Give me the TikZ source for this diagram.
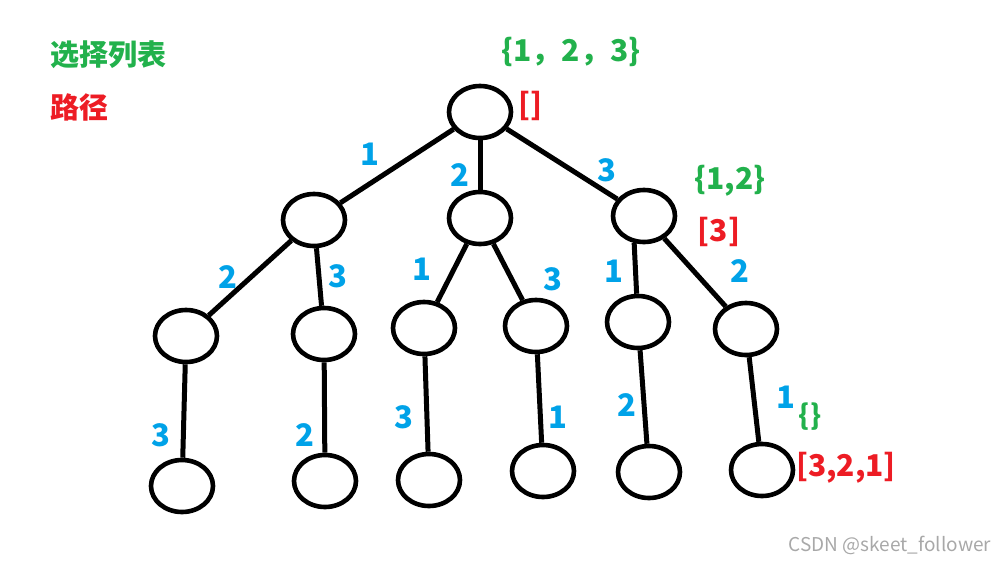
\documentclass[tikz,border=0pt]{standalone}
\usepackage{fontspec}
\setmainfont{Noto Sans CJK SC}
\usetikzlibrary{shapes.geometric}
\definecolor{listgreen}{HTML}{22B14C}
\definecolor{pathred}{HTML}{ED1C24}
\definecolor{pickblue}{HTML}{00A2E8}
\definecolor{markgray}{HTML}{A8A8A8}
\tikzset{
  state/.style={ellipse, draw=black, line width=2.3pt, minimum width=31pt,
                minimum height=26pt, inner sep=0pt},
  branch/.style={draw=black, line width=2.5pt},
  pick/.style={font=\fontsize{15.5}{17}\selectfont\bfseries, text=pickblue, inner sep=0pt},
  choices/.style={font=\fontsize{15}{17}\selectfont\bfseries, text=listgreen, inner sep=0pt},
  trail/.style={font=\fontsize{15}{17}\selectfont\bfseries, text=pathred, inner sep=0pt},
}

\begin{document}
\begin{tikzpicture}[x=0.5pt, y=-0.5pt]
  \useasboundingbox (0,0) rectangle (1006,562);

  % legend
  \node[choices, font=\fontsize{14.5}{17}\selectfont\bfseries] (legA) at (108,55) {选择列表};
  \node[trail, font=\fontsize{14.5}{17}\selectfont\bfseries] (legB) at (79,107) {路径};

  % tree
  \node[state] (root) at (480,112) {};
  \node[state] (a) at (314,220) {};
  \node[state] (b) at (480,218) {};
  \node[state] (c) at (644,216) {};
  \node[state] (a1) at (186,336) {};
  \node[state] (a2) at (324,334) {};
  \node[state] (b1) at (424,328) {};
  \node[state] (b2) at (536,326) {};
  \node[state] (c1) at (638,322) {};
  \node[state] (c2) at (746,329) {};
  \node[state] (a1x) at (182,486) {};
  \node[state] (a2x) at (325,481) {};
  \node[state] (b1x) at (429,480) {};
  \node[state] (b2x) at (543,471) {};
  \node[state] (c1x) at (649,472) {};
  \node[state] (c2x) at (762,470) {};

  \draw[branch] (root) -- (a);
  \draw[branch] (root) -- (b);
  \draw[branch] (root) -- (c);
  \draw[branch] (a) -- (a1);
  \draw[branch] (a) -- (a2);
  \draw[branch] (b) -- (b1);
  \draw[branch] (b) -- (b2);
  \draw[branch] (c.250) -- (c1);
  \draw[branch] (c) -- (c2);
  \draw[branch] (a1) -- (a1x);
  \draw[branch] (a2) -- (a2x);
  \draw[branch] (b1) -- (b1x);
  \draw[branch] (b2) -- (b2x);
  \draw[branch] (c1) -- (c1x);
  \draw[branch] (c2) -- (c2x);

  % picked numbers
  \node[pick] (p1) at (370,154) {1};
  \node[pick] (p2) at (460,175) {2};
  \node[pick] (p3) at (607,170) {3};
  \node[pick] (pa1) at (228,277) {2};
  \node[pick] (pa2) at (338,276) {3};
  \node[pick] (pb1) at (422,269) {1};
  \node[pick] (pb2) at (553,279) {3};
  \node[pick] (pc1) at (614,271) {1};
  \node[pick] (pc2) at (740,271) {2};
  \node[pick] (qa1) at (161,435) {3};
  \node[pick] (qa2) at (305,435) {2};
  \node[pick] (qb1) at (404,417) {3};
  \node[pick] (qb2) at (558,417) {1};
  \node[pick] (qc1) at (627,405) {2};
  \node[pick] (qc2) at (786,397) {1};

  % lists and paths
  \node[choices] (setroot) at (571,52) {\{1，2，3\}};
  \node[trail] (pathroot) at (530,106) {[]};
  \node[choices] (setc) at (730,181) {\{1,2\}};
  \node[trail] (pathc) at (719,232) {[3]};
  \node[choices, font=\fontsize{14}{16}\selectfont\bfseries] (setleaf) at (810,417) {\{\}};
  \node[trail] (pathleaf) at (846,468) {[3,2,1]};

  \node[font=\fontsize{9.5}{11}\selectfont, text=markgray, inner sep=0pt] (mark) at (890,545) {CSDN @skeet\_follower};
\end{tikzpicture}
\end{document}
